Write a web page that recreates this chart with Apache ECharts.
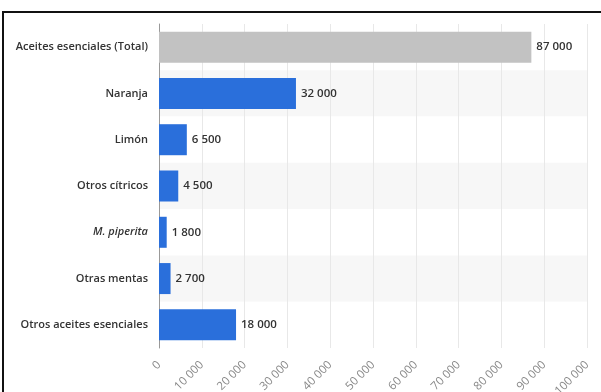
<!DOCTYPE html>
<html>
<head>
<meta charset="utf-8">
<style>
  html, body { margin: 0; padding: 0; background: #fff; }
  #chart { width: 601px; height: 392px; }
</style>
<script src="https://cdn.jsdelivr.net/npm/echarts@6/dist/echarts.min.js"></script>
</head>
<body>
<div id="chart"></div>
<script>
// Production of essential oils (tonnes)
const categories = [
  'Aceites esenciales (Total)',
  'Naranja',
  'Limón',
  'Otros cítricos',
  'M. piperita',
  'Otras mentas',
  'Otros aceites esenciales'
];
const values = [87000, 32000, 6500, 4500, 1800, 2700, 18000];
const totalIndex = 0;
const italicCategories = ['M. piperita'];

const BLUE = '#2a6fdb';
const GREY = '#c2c2c2';

// thousands separated by a space: 87 000
function fmt(v) {
  return String(v).replace(/\B(?=(\d{3})+(?!\d))/g, ' ');
}

const chart = echarts.init(document.getElementById('chart'), null, { renderer: 'canvas' });

chart.setOption({
  animation: false,
  backgroundColor: '#fff',
  textStyle: { fontFamily: 'Open Sans' },
  grid: { left: 159, right: 14, top: 24, bottom: 44, containLabel: false, outerBoundsMode: 'none' },
  xAxis: {
    type: 'value',
    min: 0,
    max: 100000,
    interval: 10000,
    axisLine: { show: false },
    axisTick: { show: false },
    splitLine: { show: true, lineStyle: { color: '#e8e8e8', width: 1 } },
    axisLabel: {
      rotate: 45,
      margin: 15,
      color: '#888',
      fontSize: 11.5,
      fontFamily: 'Open Sans',
      formatter: v => fmt(v)
    }
  },
  yAxis: {
    type: 'category',
    data: categories,
    inverse: true,
    axisLine: { show: true, lineStyle: { color: '#999', width: 1 } },
    axisTick: { show: false },
    splitLine: { show: false },
    splitArea: { show: true, areaStyle: { color: ['#ffffff', '#f7f7f7'] } },
    axisLabel: {
      margin: 11,
      color: '#333',
      fontSize: 11,
      fontWeight: 600,
      fontFamily: 'Open Sans',
      formatter: v => italicCategories.includes(v) ? '{it|' + v + '}' : v,
      rich: {
        it: { fontStyle: 'italic', fontWeight: 600, fontSize: 11, color: '#333', fontFamily: 'Open Sans' }
      }
    }
  },
  series: [{
    type: 'bar',
    data: values.map((v, i) => ({
      value: v,
      itemStyle: { color: i === totalIndex ? GREY : BLUE }
    })),
    barWidth: '67%',
    label: {
      show: true,
      position: 'right',
      distance: 5,
      color: '#333',
      fontSize: 11.5,
      fontWeight: 600,
      fontFamily: 'Open Sans',
      formatter: p => fmt(p.value)
    }
  }],
  graphic: [
    { type: 'line', shape: { x1: 2, y1: 12, x2: 601, y2: 12 }, style: { stroke: '#111', lineWidth: 2 } },
    { type: 'line', shape: { x1: 3, y1: 11, x2: 3, y2: 392 }, style: { stroke: '#111', lineWidth: 2 } }
  ]
});
</script>
</body>
</html>
